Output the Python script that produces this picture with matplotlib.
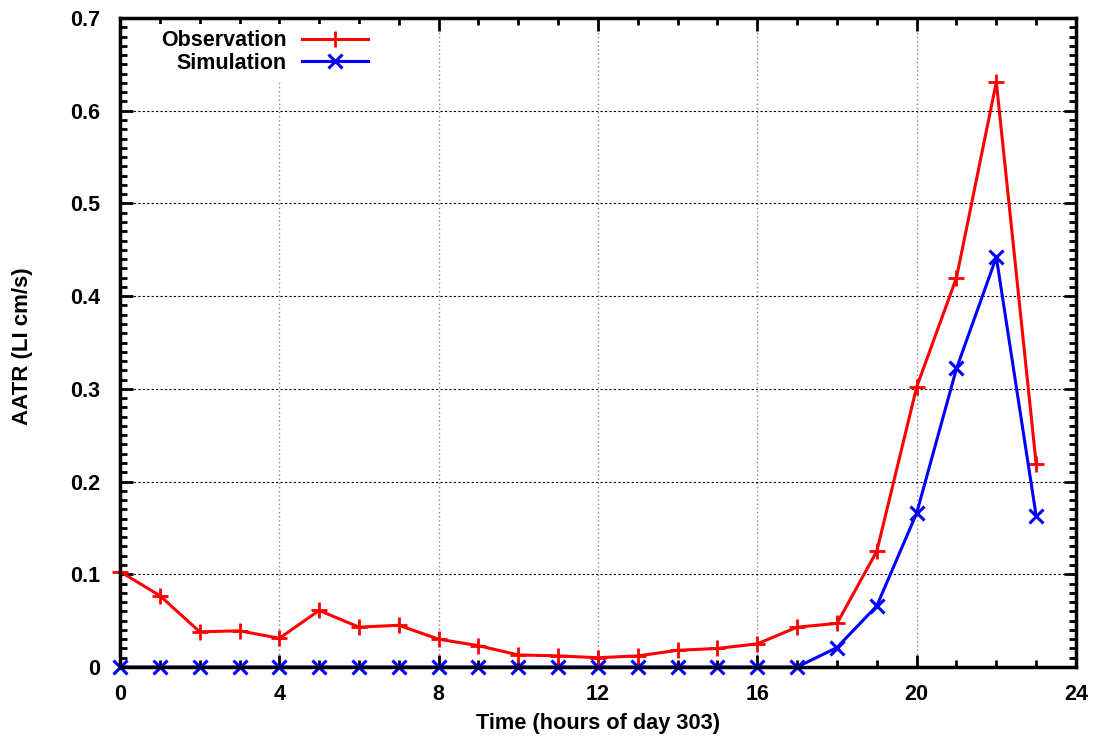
import matplotlib
matplotlib.use("Agg")
import matplotlib.pyplot as plt
from matplotlib.ticker import MultipleLocator, FuncFormatter

hours = list(range(24))
observation = [0.103, 0.077, 0.038, 0.039, 0.031, 0.061, 0.043, 0.045, 0.030, 0.023,
               0.013, 0.012, 0.010, 0.012, 0.018, 0.020, 0.025, 0.043, 0.047, 0.125,
               0.302, 0.420, 0.631, 0.219]
simulation = [0.0] * 18 + [0.021, 0.066, 0.166, 0.322, 0.442, 0.163]

plt.rcParams['font.family'] = ['Liberation Sans', 'DejaVu Sans']
plt.rcParams['font.weight'] = 'bold'

fig = plt.figure(figsize=(10.98, 7.36), dpi=100)
ax = fig.add_axes([120/1098, 1-667/736, (1076-120)/1098, (667-18)/736])

ax.plot(hours, observation, color='#ff0000', lw=2.2, marker='+', ms=12, mew=2,
        label='Observation', zorder=3, clip_on=False)
ax.plot(hours, simulation, color='#0000ff', lw=2.2, marker='x', ms=10, mew=2.2,
        label='Simulation', zorder=3, clip_on=False)

ax.set_xlim(0, 24)
ax.set_ylim(0, 0.7)
ax.xaxis.set_major_locator(MultipleLocator(4))
ax.xaxis.set_minor_locator(MultipleLocator(1))
ax.yaxis.set_major_locator(MultipleLocator(0.1))
ax.yaxis.set_minor_locator(MultipleLocator(0.01))
ax.yaxis.set_major_formatter(FuncFormatter(lambda v, p: '0' if abs(v) < 1e-9 else f'{v:.1f}'))

ax.tick_params(which='both', direction='in', top=True, right=True, width=2, color='black')
ax.tick_params(which='major', length=9, labelsize=15.5)
ax.tick_params(axis='y', which='major', pad=14)
ax.tick_params(axis='x', which='major', pad=12)
ax.tick_params(which='minor', length=5)
for lab in ax.get_xticklabels() + ax.get_yticklabels():
    lab.set_fontweight('bold')

for s in ax.spines.values():
    s.set_linewidth(2.5)
    s.set_zorder(6)

ax.xaxis.grid(True, which='major', color='#888888', ls=(0, (1, 2)), lw=1)
ax.yaxis.grid(True, which='major', color='black', ls=(0, (2, 2)), lw=0.8)
ax.set_axisbelow(True)

ax.set_xlabel('Time (hours of day 303)', fontsize=15.7, fontweight='bold', va='center')
ax.set_ylabel('AATR (LI cm/s)', fontsize=16, fontweight='bold', va='center')
ax.xaxis.set_label_coords(0.5, (667 - 723) / 649)
ax.yaxis.set_label_coords((23 - 120) / 956, (667 - 346) / 649)

leg = ax.legend(loc='upper left', markerfirst=False, frameon=True, fontsize=15.5,
                handlelength=3.1, handletextpad=0.7, labelspacing=0.05,
                borderaxespad=0.0, borderpad=0.3, bbox_to_anchor=(0.036, 1 - 6/649))
leg.get_frame().set_edgecolor('none')
leg.get_frame().set_facecolor('white')
leg.get_frame().set_alpha(1)
leg.set_zorder(5)
for t in leg.get_texts():
    t.set_fontweight('bold')

fig.savefig('out.png', dpi=100)
